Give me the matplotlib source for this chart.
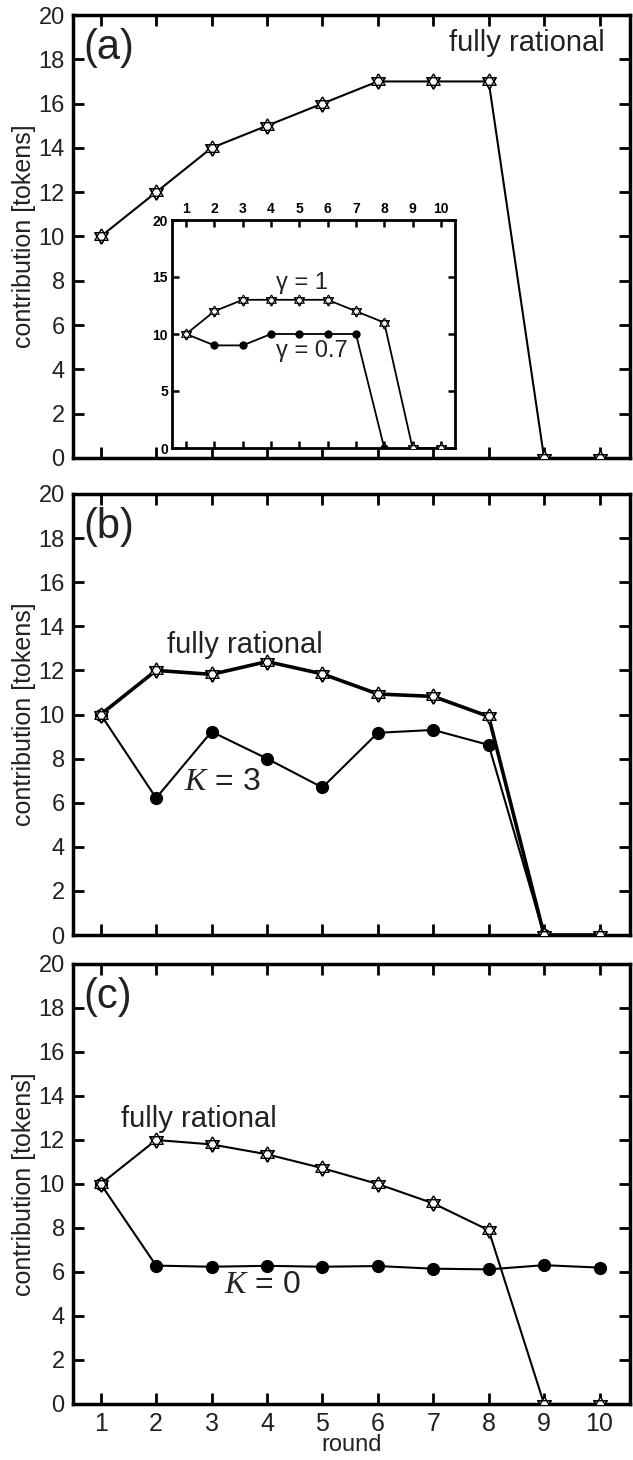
import matplotlib
matplotlib.use("Agg")
import matplotlib.pyplot as plt

# ---- data ------------------------------------------------------------------
rounds = [1, 2, 3, 4, 5, 6, 7, 8, 9, 10]

# (a) fully rational agents
a_rational = [10, 12, 14, 15, 16, 17, 17, 17, 0, 0]
# (a) inset: discount factor gamma
inset_gamma1 = [10, 12, 13, 13, 13, 13, 12, 11, 0, 0]
inset_rounds_g07 = [1, 2, 3, 4, 5, 6, 7, 8]
inset_gamma07 = [10, 9, 9, 10, 10, 10, 10, 0]

# (b) fully rational vs K = 3
b_rational = [10, 12.0, 11.82, 12.4, 11.84, 10.93, 10.82, 9.91, 0, 0]
b_rounds_k3 = [1, 2, 3, 4, 5, 6, 7, 8, 9]
b_k3 = [10, 6.21, 9.22, 8.0, 6.69, 9.17, 9.3, 8.62, 0]

# (c) fully rational vs K = 0
c_rational = [10, 12.0, 11.8, 11.35, 10.72, 10.0, 9.12, 7.9, 0, 0]
c_k0 = [10, 6.29, 6.24, 6.28, 6.24, 6.27, 6.15, 6.12, 6.31, 6.2]

plt.rcParams["font.family"] = ["Liberation Sans", "DejaVu Sans"]
plt.rcParams["mathtext.fontset"] = "custom"
plt.rcParams["mathtext.it"] = "Liberation Serif:italic"
plt.rcParams["mathtext.rm"] = "Liberation Sans"

TXT = "#222222"

# triangles centred on their centroid, so the pair forms a six-pointed star
TRI_UP = [(0, 1), (-0.866, -0.5), (0.866, -0.5), (0, 1)]
TRI_DN = [(0, -1), (-0.866, 0.5), (0.866, 0.5), (0, -1)]


def star(ax, x, y, ms, lw=1.5, mew=1.0):
    ax.plot(x, y, color="black", lw=lw, zorder=2)
    ax.plot(x, y, ls="none", marker=TRI_DN, ms=ms, mfc="white", mec="black", mew=mew, zorder=3)
    ax.plot(x, y, ls="none", marker=TRI_UP, ms=ms, mfc="white", mec="black", mew=mew, zorder=3)
    ax.plot(x, y, ls="none", marker=TRI_DN, ms=ms, mfc="none", mec="black", mew=mew, zorder=4)


def dots(ax, x, y, ms, lw=1.5):
    ax.plot(x, y, color="black", lw=lw, marker="o", ms=ms, mfc="black", mec="black", zorder=2)


def style_main(ax, show_x):
    ax.set_xlim(0.5, 10.55)
    ax.set_ylim(0, 20)
    ax.set_xticks(rounds)
    ax.set_yticks(range(0, 21, 2))
    ax.tick_params(direction="in", length=8, width=2, top=True, right=True,
                   labelsize=17, pad=6, labelcolor=TXT)
    ax.tick_params(axis="x", labelbottom=show_x, labelsize=18)
    for s in ax.spines.values():
        s.set_linewidth(2.5)
    ax.set_ylabel("contribution [tokens]", fontsize=18, color=TXT, labelpad=2)


fig = plt.figure(figsize=(6.33, 14.6), dpi=100)
W, H = 633.0, 1460.0


def add_axes(left, top, right, bottom):
    return fig.add_axes([left / W, 1 - bottom / H, (right - left) / W, (bottom - top) / H])


ax_a = add_axes(73, 15, 630, 458)
ax_b = add_axes(73, 494, 630, 935)
ax_c = add_axes(73, 964, 630, 1404)

# ---- (a) -------------------------------------------------------------------
star(ax_a, rounds, a_rational, ms=11)
style_main(ax_a, False)
ax_a.text(0.68, 18.5, "(a)", fontsize=30, color=TXT, va="center")
ax_a.text(10.1, 18.75, "fully rational", fontsize=21, color=TXT, ha="right", va="center")

# inset
ins = add_axes(172, 220, 455, 448)
star(ins, rounds, inset_gamma1, ms=8, lw=1.3, mew=0.8)
dots(ins, inset_rounds_g07, inset_gamma07, ms=5, lw=1.3)
ins.set_xlim(0.5, 10.5)
ins.set_ylim(0, 20)
ins.set_xticks(rounds)
ins.set_yticks([0, 5, 10, 15, 20])
ins.tick_params(direction="in", length=5, width=1.8, top=True, right=True,
                labeltop=True, labelbottom=False, labelsize=10, pad=3)
for lab in ins.get_xticklabels() + ins.get_yticklabels():
    lab.set_fontweight("bold")
for s in ins.spines.values():
    s.set_linewidth(2)
ins.text(5.1, 14.5, "γ = 1", fontsize=17, color=TXT, ha="center", va="center")
ins.text(5.45, 8.5, "γ = 0.7", fontsize=17, color=TXT, ha="center", va="center")

# ---- (b) -------------------------------------------------------------------
dots(ax_b, b_rounds_k3, b_k3, ms=8.5)
star(ax_b, rounds, b_rational, ms=11, lw=2.6)
style_main(ax_b, False)
ax_b.text(0.68, 18.5, "(b)", fontsize=30, color=TXT, va="center")
ax_b.text(3.61, 13.15, "fully rational", fontsize=21, color=TXT, ha="center", va="center")
ax_b.text(2.5, 6.95, "$\\it{K}$ = 3", fontsize=23, color=TXT, ha="left", va="center")

# ---- (c) -------------------------------------------------------------------
star(ax_c, rounds, c_rational, ms=11)
dots(ax_c, rounds, c_k0, ms=8.5)
style_main(ax_c, True)
ax_c.text(0.68, 18.5, "(c)", fontsize=30, color=TXT, va="center")
ax_c.text(2.78, 12.97, "fully rational", fontsize=21, color=TXT, ha="center", va="center")
ax_c.text(3.22, 5.43, "$\\it{K}$ = 0", fontsize=23, color=TXT, ha="left", va="center")
ax_c.set_xlabel("round", fontsize=17, color=TXT, labelpad=-2)

fig.savefig("out.png", dpi=100)
